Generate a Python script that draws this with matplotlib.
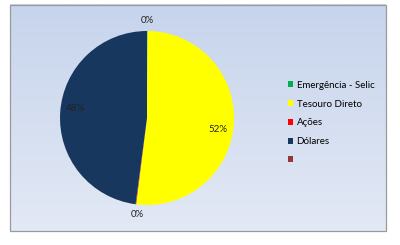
import numpy as np
import matplotlib
matplotlib.use("Agg")
import matplotlib.pyplot as plt
from matplotlib.patches import Rectangle

plt.rcParams["font.family"] = ["Lato", "DejaVu Sans"]

categories = ["Emergência - Selic", "Tesouro Direto", "Ações", "Dólares", ""]
values = [0.1, 52.0, 0.1, 48.0, 0.0]
colors = ["#00b050", "#ffff00", "#ff0000", "#17375e", "#953735"]

W, H = 400, 245
fig = plt.figure(figsize=(4, 2.45), dpi=100)
fig.patch.set_facecolor("white")

# background panel with vertical gradient
bg = fig.add_axes([0, 0, 1, 1])
bg.set_xlim(0, W)
bg.set_ylim(H, 0)
bg.axis("off")
top = np.array([0xc6, 0xd4, 0xec]) / 255
bot = np.array([0xe3, 0xe9, 0xf5]) / 255
t = np.linspace(0, 1, 200)[:, None]
grad = (top[None, :] * (1 - t) + bot[None, :] * t)[:, None, :]
bg.imshow(grad, extent=[10, 386, 231, 5], aspect="auto", zorder=0)
bg.add_patch(Rectangle((10, 5), 376, 226, fill=False, edgecolor="#9a9a9a", lw=0.9, zorder=1))

# pie
cx, cy, r = 147, 118, 87
ax = fig.add_axes([(cx - r) / W, (H - cy - r) / H, 2 * r / W, 2 * r / H])
wedges, _ = ax.pie(values, colors=colors, startangle=90, counterclock=False,
                   wedgeprops=dict(linewidth=0))
ax.set_xlim(-1, 1)
ax.set_ylim(-1, 1)
ax.set_aspect("equal")
ax.axis("off")

total = sum(values)
for i, (w, v) in enumerate(zip(wedges, values)):
    if i >= 4:
        continue
    ang = np.deg2rad((w.theta1 + w.theta2) / 2)
    pct = round(v / total * 100)
    d = 0.82 if pct > 0 else 1.12
    dy = 0.05 if pct > 0 and np.cos(ang) < 0 else (-0.08 if pct > 0 else 0)
    dx = 0.03 if pct == 0 and np.sin(ang) < 0 else 0
    ax.text(d * np.cos(ang) + dx, d * np.sin(ang) + dy, f"{pct}%", ha="center", va="center",
            fontsize=7, color="#222222", clip_on=False)

# legend
handles = [Rectangle((0, 0), 1, 1, facecolor=c, edgecolor="none") for c in colors]
leg = fig.legend(handles, categories, loc="upper left",
                 bbox_to_anchor=(283 / W, 1 - 76 / H), frameon=False,
                 fontsize=7, handlelength=0.55, handleheight=0.55,
                 handletextpad=0.35, labelspacing=1.0, borderpad=0)

fig.savefig("out.png", dpi=100)
